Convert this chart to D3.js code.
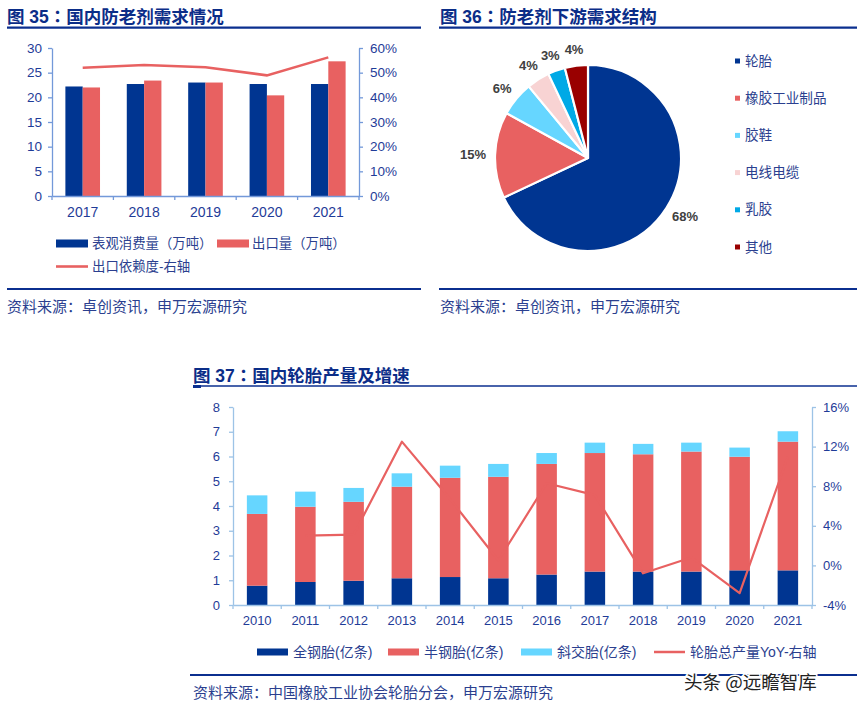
<!DOCTYPE html>
<html><head><meta charset="utf-8">
<script src="https://cdn.jsdelivr.net/npm/d3@7"></script>
<style>body{margin:0;background:#fff}svg{display:block}</style>
</head><body>
<svg id="c" width="864" height="708"></svg>
<script>
// ---------- DATA ----------
const years35 = ["2017","2018","2019","2020","2021"];
const consumption35 = [22.2, 22.7, 23.0, 22.7, 22.7];   // 表观消费量（万吨）
const exports35 = [22.0, 23.4, 23.0, 20.4, 27.3];       // 出口量（万吨）
const exportDep35 = [52.0, 53.1, 52.2, 48.9, 56.2];     // 出口依赖度 %
const ticksLeft35 = [0,5,10,15,20,25,30];
const ticksRight35 = [0,10,20,30,40,50,60];

const pieCats = ["轮胎","橡胶工业制品","胶鞋","电线电缆","乳胶","其他"];
const pieValues = [68, 15, 6, 4, 3, 4];

const years37 = ["2010","2011","2012","2013","2014","2015","2016","2017","2018","2019","2020","2021"];
const allSteel37 = [0.78,0.93,0.98,1.08,1.13,1.08,1.23,1.35,1.35,1.35,1.40,1.40];
const semiSteel37 = [2.90,3.04,3.19,3.70,4.01,4.10,4.47,4.79,4.74,4.85,4.59,5.20];
const bias37 = [0.75,0.61,0.56,0.54,0.49,0.52,0.44,0.42,0.42,0.36,0.37,0.42];
const yoy37 = [null,3.0,3.1,12.5,6.7,0.5,8.3,7.1,-0.8,0.8,-2.8,11.0];
const ticksLeft37 = [0,1,2,3,4,5,6,7,8];
const ticksRight37 = [-4,0,4,8,12,16];

// ---------- STYLE ----------
const NAVY = "#003591", RED = "#e86161", CYAN = "#66d6ff";
const PINK = "#f8d3d3", SKY = "#00a9e6", MAROON = "#990000";
const TITLE_C = "#0b2d88", TICK_C = "#1f3c98", TXT_C = "#2b3f8f", RULE_C = "#0b2f8f";
const FONT = "'Liberation Sans', Arial, 'Noto Sans CJK SC', sans-serif";

const svg = d3.select("#c");

function title(x, y, t) {
  const parts = t.split("：");
  const el = svg.append("text").attr("x", x).attr("y", y)
    .attr("font-family", FONT).attr("font-weight", "bold").attr("font-size", 17.5)
    .attr("fill", TITLE_C);
  el.append("tspan").text(parts[0]);
  el.append("tspan").attr("font-family", "'Noto Sans CJK JP', sans-serif").text("：");
  el.append("tspan").text(parts[1]);
}
function rule(x1, x2, y, w) {
  svg.append("line").attr("x1", x1).attr("x2", x2).attr("y1", y).attr("y2", y)
    .attr("stroke", RULE_C).attr("stroke-width", w);
}
function source(x, y, t, size) {
  svg.append("text").attr("x", x).attr("y", y).text(t)
    .attr("font-family", FONT).attr("font-size", size).attr("fill", TXT_C)
    .attr("dominant-baseline", "central");
}
function styleAxis(g, color, fs) {
  g.selectAll(".domain").attr("stroke", color).attr("stroke-width", 1.3);
  g.selectAll(".tick line").attr("stroke", color).attr("stroke-width", 1.3);
  g.selectAll(".tick text").attr("fill", TICK_C).attr("font-size", fs).attr("font-family", FONT);
}

// ================= Chart 35 =================
title(7, 22.5, "图 35：国内防老剂需求情况");
rule(7, 421, 27.7, 2.2);
{
  const L = 52, R = 359, T = 48, B = 196;
  const x0 = d3.scaleBand().domain(years35).range([L, R]).paddingInner(0.436).paddingOuter(0.218);
  const x1 = d3.scaleBand().domain(["c","e"]).range([0, x0.bandwidth()]);
  const yL = d3.scaleLinear().domain([0, 30]).range([B, T]);
  const yR = d3.scaleLinear().domain([0, 60]).range([B, T]);
  const axC = "#7399d9";

  const rows = years35.map((y, i) => ({y, c: consumption35[i], e: exports35[i], d: exportDep35[i]}));
  const g = svg.append("g");
  g.selectAll(".bc").data(rows).join("rect")
    .attr("x", d => x0(d.y) + x1("c")).attr("width", x1.bandwidth())
    .attr("y", d => yL(d.c)).attr("height", d => B - yL(d.c)).attr("fill", NAVY);
  g.selectAll(".be").data(rows).join("rect")
    .attr("x", d => x0(d.y) + x1("e")).attr("width", x1.bandwidth())
    .attr("y", d => yL(d.e)).attr("height", d => B - yL(d.e)).attr("fill", RED);

  const gl = svg.append("g").attr("transform", `translate(${L},0)`)
    .call(d3.axisLeft(yL).tickValues(ticksLeft35).tickSize(4).tickPadding(6).tickSizeOuter(0));
  styleAxis(gl, axC, 13.5);
  const gr = svg.append("g").attr("transform", `translate(${R},0)`)
    .call(d3.axisRight(yR).tickValues(ticksRight35).tickSize(4).tickPadding(7).tickSizeOuter(0)
      .tickFormat(d => d + "%"));
  styleAxis(gr, axC, 13.5);
  const gx = svg.append("g").attr("transform", `translate(0,${B})`)
    .call(d3.axisBottom(x0).tickSize(0).tickPadding(11));
  styleAxis(gx, axC, 14);
  const xs = d3.scaleLinear().domain([0, years35.length]).range([L, R]);
  svg.append("g").selectAll("line").data(d3.range(years35.length + 1)).join("line")
    .attr("x1", d => xs(d)).attr("x2", d => xs(d)).attr("y1", B).attr("y2", B + 4)
    .attr("stroke", axC).attr("stroke-width", 1.3);

  const line = d3.line().x(d => x0(d.y) + x0.bandwidth() / 2).y(d => yR(d.d));
  svg.append("path").datum(rows).attr("d", line).attr("fill", "none")
    .attr("stroke", RED).attr("stroke-width", 2.6);

  const lg = svg.append("g").attr("font-family", FONT).attr("font-size", 13.4).attr("fill", TXT_C);
  lg.append("rect").attr("x", 56).attr("y", 239.5).attr("width", 32).attr("height", 8).attr("fill", NAVY);
  lg.append("text").attr("x", 92).attr("y", 243.5).attr("dominant-baseline", "central").text("表观消费量（万吨）");
  lg.append("rect").attr("x", 217).attr("y", 239.5).attr("width", 32).attr("height", 8).attr("fill", RED);
  lg.append("text").attr("x", 252).attr("y", 243.5).attr("dominant-baseline", "central").text("出口量（万吨）");
  lg.append("line").attr("x1", 56).attr("x2", 88).attr("y1", 266.5).attr("y2", 266.5).attr("stroke", RED).attr("stroke-width", 2.6);
  lg.append("text").attr("x", 92).attr("y", 266.5).attr("dominant-baseline", "central").text("出口依赖度-右轴");
}
rule(7, 421, 289, 2.2);
source(7, 306, "资料来源：卓创资讯，申万宏源研究", 15);

// ================= Chart 36 =================
title(440, 22.5, "图 36：防老剂下游需求结构");
rule(439, 857, 27.7, 2.2);
{
  const cx = 588, cy = 158, r = 93;
  const colors = [NAVY, RED, CYAN, PINK, SKY, MAROON];
  const pie = d3.pie().sort(null).value(d => d)(pieValues);
  const arc = d3.arc().innerRadius(0).outerRadius(r);
  const g = svg.append("g").attr("transform", `translate(${cx},${cy})`);
  g.selectAll("path").data(pie).join("path").attr("d", arc)
    .attr("fill", (d, i) => colors[i]).attr("stroke", "#fff").attr("stroke-width", 2.2)
    .attr("stroke-linejoin", "round");
  g.selectAll("text").data(pie).join("text")
    .attr("font-family", FONT).attr("font-weight", "bold").attr("font-size", 13)
    .attr("fill", "#404040").attr("text-anchor", "middle").attr("dominant-baseline", "central")
    .text(d => d.value + "%")
    .each(function(d) {
      const a = (d.startAngle + d.endAngle) / 2;
      const s = Math.sin(a), c = -Math.cos(a);
      const w = this.getComputedTextLength();
      const R = r + 9;
      d3.select(this).attr("x", s * R + s * w / 2).attr("y", c * R + c * 7);
    });
  const lg = svg.append("g").attr("font-family", FONT).attr("font-size", 13.6).attr("fill", TXT_C);
  const ly = d3.scaleLinear().domain([0, 5]).range([61, 247]);
  pieCats.forEach((t, i) => {
    lg.append("rect").attr("x", 735).attr("y", ly(i) - 2.5).attr("width", 5).attr("height", 5).attr("fill", colors[i]);
    lg.append("text").attr("x", 745).attr("y", ly(i)).attr("dominant-baseline", "central").text(t);
  });
}
rule(439, 857, 289, 2.2);
source(440, 306, "资料来源：卓创资讯，申万宏源研究", 15);

// ================= Chart 37 =================
title(193, 382, "图 37：国内轮胎产量及增速");
rule(193, 857, 386, 1.5);
svg.append("rect").attr("x", 193).attr("y", 385).attr("width", 8).attr("height", 3).attr("fill", RULE_C);
{
  const L = 233, R = 812, T = 407, B = 605;
  const x = d3.scaleBand().domain(years37).range([L, R]).paddingInner(0.575).paddingOuter(0.2875);
  const yL = d3.scaleLinear().domain([0, 8]).range([B, T]);
  const yR = d3.scaleLinear().domain([-4, 16]).range([B, T]);
  const axC = "#9dc3e6";
  const keys = ["a","s","b"];
  const cols = {a: NAVY, s: RED, b: CYAN};
  const rows = years37.map((y, i) => ({y, a: allSteel37[i], s: semiSteel37[i], b: bias37[i], v: yoy37[i]}));
  const stack = d3.stack().keys(keys)(rows);
  svg.append("g").selectAll("g").data(stack).join("g").attr("fill", d => cols[d.key])
    .selectAll("rect").data(d => d).join("rect")
    .attr("x", d => x(d.data.y)).attr("width", x.bandwidth())
    .attr("y", d => yL(d[1])).attr("height", d => yL(d[0]) - yL(d[1]));

  const gl = svg.append("g").attr("transform", `translate(${L},0)`)
    .call(d3.axisLeft(yL).tickValues(ticksLeft37).tickSize(4).tickPadding(9).tickSizeOuter(0));
  styleAxis(gl, axC, 13);
  const gr = svg.append("g").attr("transform", `translate(${R},0)`)
    .call(d3.axisRight(yR).tickValues(ticksRight37).tickSize(4).tickPadding(7).tickSizeOuter(0)
      .tickFormat(d => d + "%"));
  styleAxis(gr, axC, 13);
  const gx = svg.append("g").attr("transform", `translate(0,${B})`)
    .call(d3.axisBottom(x).tickSize(0).tickPadding(11));
  styleAxis(gx, axC, 13);
  const xs = d3.scaleLinear().domain([0, years37.length]).range([L, R]);
  svg.append("g").selectAll("line").data(d3.range(years37.length + 1)).join("line")
    .attr("x1", d => xs(d)).attr("x2", d => xs(d)).attr("y1", B).attr("y2", B + 4)
    .attr("stroke", axC).attr("stroke-width", 1.3);

  const line = d3.line().defined(d => d.v != null)
    .x(d => x(d.y) + x.bandwidth() / 2).y(d => yR(d.v));
  svg.append("path").datum(rows).attr("d", line).attr("fill", "none")
    .attr("stroke", RED).attr("stroke-width", 2.2).attr("stroke-linejoin", "round");

  const lg = svg.append("g").attr("font-family", FONT).attr("font-size", 14).attr("fill", TXT_C);
  const items = [["全钢胎(亿条)", NAVY, 257], ["半钢胎(亿条)", RED, 388], ["斜交胎(亿条)", CYAN, 521]];
  items.forEach(([t, c, lx]) => {
    lg.append("rect").attr("x", lx).attr("y", 648.5).attr("width", 31).attr("height", 7).attr("fill", c);
    lg.append("text").attr("x", lx + 36).attr("y", 652).attr("dominant-baseline", "central").text(t);
  });
  lg.append("line").attr("x1", 654).attr("x2", 685).attr("y1", 652).attr("y2", 652).attr("stroke", RED).attr("stroke-width", 2.5);
  lg.append("text").attr("x", 690).attr("y", 652).attr("dominant-baseline", "central").text("轮胎总产量YoY-右轴");
}
rule(190, 857, 675, 2.2);
source(193, 692, "资料来源：中国橡胶工业协会轮胎分会，申万宏源研究", 15);
svg.append("text").attr("x", 684).attr("y", 689).text("头条 @远瞻智库")
  .attr("font-family", "'Noto Sans CJK SC', sans-serif").attr("font-size", 18.5)
  .attr("fill", "#222").attr("stroke", "#fff").attr("stroke-width", 3).attr("paint-order", "stroke");
</script>
</body></html>
